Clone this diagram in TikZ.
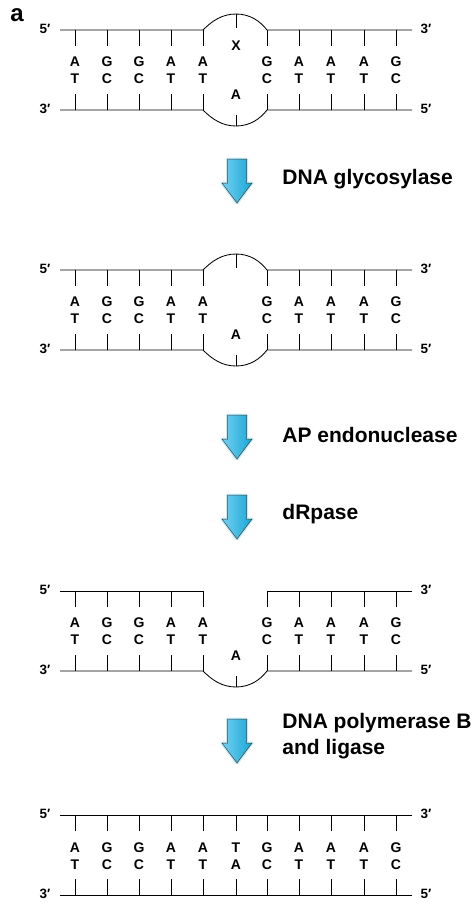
\documentclass[tikz,border=0pt]{standalone}
\usepackage{fontspec}
\setmainfont{Liberation Sans}
\definecolor{arrowblue}{RGB}{25,165,215}
\definecolor{arrowlight}{RGB}{115,210,240}

\begin{document}
\begin{tikzpicture}[x=1pt, y=-1pt, line width=0.85pt,
  base/.style={font=\fontsize{14}{14}\selectfont\bfseries, inner sep=0pt, anchor=base},
  endlabel/.style={font=\fontsize{13.5}{14}\selectfont\bfseries, inner sep=0pt, anchor=base},
  enzyme/.style={font=\fontsize{21}{26}\selectfont\bfseries, inner sep=0pt, anchor=base west},
  blockarrow/.style={draw=black!75, line width=0.5pt, left color=arrowlight, right color=arrowblue},
  glow/.style={draw=arrowlight!45, line width=3pt, line join=round}]
  \useasboundingbox (0,0) rectangle (473,903);

  \node[font=\fontsize{24}{24}\selectfont\bfseries, inner sep=0pt, anchor=base] (tag) at (17,21) {a};

  % Panel 1: mismatched X opposite A
  \begin{scope}[shift={(0,30)}]
    \draw (60,0) -- (203,0) .. controls (212,-9) and (222,-16) .. (236,-16)
      .. controls (250,-16) and (260,-9) .. (267,0) -- (412,0);
    \draw (60,80) -- (203,80) .. controls (212,89) and (222,96) .. (236,96)
      .. controls (250,96) and (260,89) .. (267,80) -- (412,80);
    \draw (236,-16) -- (236,-2);
    \draw (236,96) -- (236,85);
    \foreach \x/\a/\b in {75/A/T, 107/G/C, 139/G/C, 171/A/T, 203/A/T,
                         267/G/C, 299/A/T, 331/A/T, 364/A/T, 396/G/C} {
      \draw (\x,0) -- (\x,16);
      \draw (\x,64) -- (\x,80);
      \node[base] (p1t\x) at (\x,36.7) {\a};
      \node[base] (p1b\x) at (\x,53.3) {\b};
    }
    \node[base] (p1x) at (236,20.7) {X};
    \node[base] (p1a) at (236,69) {A};
    \node[endlabel] (p1tl) at (45,3.3) {5′};
    \node[endlabel] (p1tr) at (426,3.3) {3′};
    \node[endlabel] (p1bl) at (45,83.3) {3′};
    \node[endlabel] (p1br) at (426,83.3) {5′};
  \end{scope}

  % Panel 2: base removed
  \begin{scope}[shift={(0,270)}]
    \draw (60,0) -- (203,0) .. controls (212,-9) and (222,-16) .. (236,-16)
      .. controls (250,-16) and (260,-9) .. (267,0) -- (412,0);
    \draw (60,80) -- (203,80) .. controls (212,89) and (222,96) .. (236,96)
      .. controls (250,96) and (260,89) .. (267,80) -- (412,80);
    \draw (236,-16) -- (236,-2);
    \draw (236,96) -- (236,85);
    \foreach \x/\a/\b in {75/A/T, 107/G/C, 139/G/C, 171/A/T, 203/A/T,
                         267/G/C, 299/A/T, 331/A/T, 364/A/T, 396/G/C} {
      \draw (\x,0) -- (\x,16);
      \draw (\x,64) -- (\x,80);
      \node[base] (p2t\x) at (\x,36.7) {\a};
      \node[base] (p2b\x) at (\x,53.3) {\b};
    }
    \node[base] (p2a) at (236,69) {A};
    \node[endlabel] (p2tl) at (45,3.3) {5′};
    \node[endlabel] (p2tr) at (426,3.3) {3′};
    \node[endlabel] (p2bl) at (45,83.3) {3′};
    \node[endlabel] (p2br) at (426,83.3) {5′};
  \end{scope}

  % Panel 3: gap in the top strand
  \begin{scope}[shift={(0,591)}]
    \draw (60,0) -- (203,0);
    \draw (267,0) -- (412,0);
    \draw (60,80) -- (203,80) .. controls (212,89) and (222,96) .. (236,96)
      .. controls (250,96) and (260,89) .. (267,80) -- (412,80);
    \draw (236,96) -- (236,85);
    \foreach \x/\a/\b in {75/A/T, 107/G/C, 139/G/C, 171/A/T, 203/A/T,
                         267/G/C, 299/A/T, 331/A/T, 364/A/T, 396/G/C} {
      \draw (\x,0) -- (\x,16);
      \draw (\x,64) -- (\x,80);
      \node[base] (p3t\x) at (\x,36.7) {\a};
      \node[base] (p3b\x) at (\x,53.3) {\b};
    }
    \node[base] (p3a) at (236,69) {A};
    \node[endlabel] (p3tl) at (45,3.3) {5′};
    \node[endlabel] (p3tr) at (426,3.3) {3′};
    \node[endlabel] (p3bl) at (45,83.3) {3′};
    \node[endlabel] (p3br) at (426,83.3) {5′};
  \end{scope}

  % Panel 4: repaired duplex
  \begin{scope}[shift={(0,815)}]
    \draw (60,0) -- (412,0);
    \draw (60,80) -- (412,80);
    \foreach \x/\a/\b in {75/A/T, 107/G/C, 139/G/C, 171/A/T, 203/A/T, 236/T/A,
                         267/G/C, 299/A/T, 331/A/T, 364/A/T, 396/G/C} {
      \draw (\x,0) -- (\x,16);
      \draw (\x,64) -- (\x,80);
      \node[base] (p4t\x) at (\x,37.5) {\a};
      \node[base] (p4b\x) at (\x,54) {\b};
    }
    \node[endlabel] (p4tl) at (45,3.3) {5′};
    \node[endlabel] (p4tr) at (426,3.3) {3′};
    \node[endlabel] (p4bl) at (45,83.3) {3′};
    \node[endlabel] (p4br) at (426,83.3) {5′};
  \end{scope}

  % block arrows between the steps
  \foreach \t in {159,415,495,719} {
    \draw[glow] (227.5,\t) -- (246.5,\t) -- (246.5,\t+24) -- (252,\t+24)
      -- (237,\t+44) -- (222,\t+24) -- (227.5,\t+24) -- cycle;
    \draw[blockarrow] (227.5,\t) -- (246.5,\t) -- (246.5,\t+24) -- (252,\t+24)
      -- (237,\t+44) -- (222,\t+24) -- (227.5,\t+24) -- cycle;
  }

  \node[enzyme] (glyco) at (282,184) {DNA glycosylase};
  \node[enzyme] (apendo) at (282,442) {AP endonuclease};
  \node[enzyme] (drpase) at (282,519) {dRpase};
  \node[enzyme] (polb) at (282,728) {DNA polymerase B};
  \node[enzyme] (ligase) at (282,754) {and ligase};
\end{tikzpicture}
\end{document}
